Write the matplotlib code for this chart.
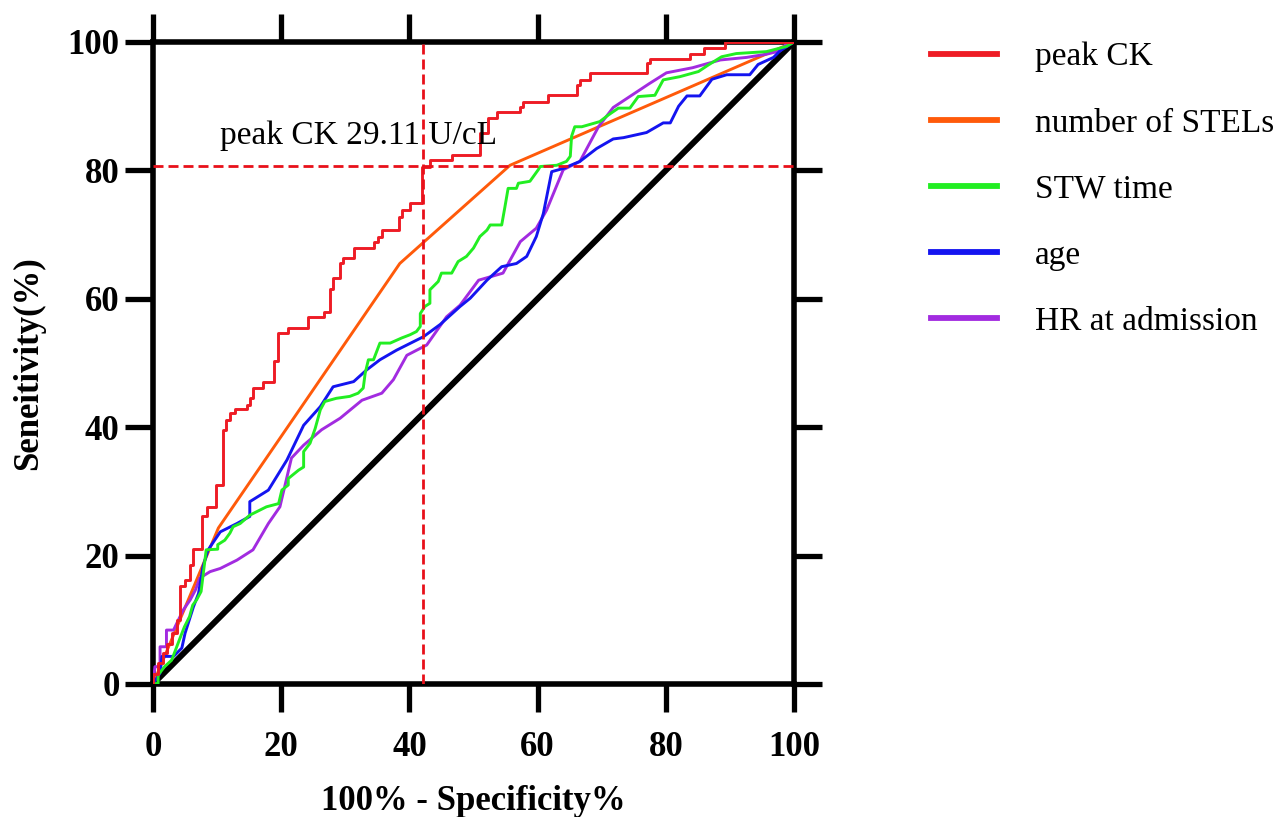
import matplotlib
matplotlib.use("Agg")
import matplotlib.pyplot as plt
from matplotlib.lines import Line2D

plt.rcParams['font.family'] = ['Liberation Serif', 'DejaVu Serif']

# ROC curves (x = 100% - specificity, y = sensitivity)
# peak CK: staircase, each point = (fpr where the level starts, level)
ck_fpr = [0, 0, 0.8, 1.5, 2.2, 2.9, 3.7, 4.2, 5.0, 5.8, 6.3, 7.6, 8.5, 9.9, 10.9, 11.4,
          12.0, 12.8, 14.6, 15.1, 15.6, 17.2, 18.9, 19.5, 21.1, 24.2, 26.6, 27.6, 28.1,
          29.2, 29.7, 31.3, 34.4, 35.1, 35.7, 38.3, 38.8, 40.1, 41.9, 43.2, 46.6, 51.0,
          52.3, 53.6, 57.3, 57.8, 61.7, 66.1, 66.6, 68.2, 77.0, 77.5, 83.8, 85.9, 89.2, 100]
ck_tpr = [0, 1.6, 3.2, 4.8, 6.3, 7.9, 10.0, 15.2, 16.2, 18.5, 21.1, 26.1, 27.6, 31.0, 39.6,
          41.1, 42.2, 42.9, 43.5, 44.5, 46.1, 47.1, 50.3, 54.6, 55.4, 57.2, 58.0, 61.6, 63.2,
          65.5, 66.3, 67.9, 68.9, 69.7, 70.7, 72.8, 73.8, 74.9, 80.6, 81.6, 82.4, 85.8, 88.1,
          89.1, 89.9, 90.7, 91.7, 93.3, 94.1, 95.1, 96.7, 97.4, 98.2, 99.0, 100, 100]

stel_fpr = [0, 10.2, 38.5, 55.7, 100]
stel_tpr = [0, 24.3, 65.5, 80.8, 100]

stw_fpr = [0, 0.8, 0.8, 1.8, 2.9, 3.4, 4.2, 4.9, 5.7, 6.2, 6.8, 7.5, 8.3, 10.1, 10.1, 11.2,
           12.0, 12.5, 13.6, 15.1, 17.7, 19.6, 20.1, 21.1, 21.1, 22.7, 23.5, 23.5, 24.5, 25.3,
           26.1, 26.8, 28.6, 30.7, 32.0, 32.8, 33.1, 33.6, 34.4, 35.4, 37.0, 38.8, 40.1, 41.1,
           41.7, 41.7, 42.4, 43.2, 43.2, 44.5, 45.0, 46.6, 47.6, 48.9, 50.0, 51.0, 52.1, 52.6,
           54.4, 54.9, 55.4, 56.7, 57.0, 58.8, 60.1, 60.4, 63.0, 64.5, 65.1, 65.3, 65.8, 66.9,
           69.7, 71.0, 72.6, 74.4, 75.7, 78.3, 79.6, 82.2, 85.1, 86.6, 88.7, 91.0, 95.7, 98.8, 100]
stw_tpr = [0, 0.1, 1.4, 2.7, 3.7, 5.0, 7.1, 8.9, 10.5, 12.3, 13.1, 14.4, 20.9, 21.0, 21.7, 22.4,
           23.5, 24.5, 25.0, 26.3, 27.6, 28.1, 30.2, 31.0, 32.0, 33.3, 33.8, 36.2, 37.5, 39.8,
           42.7, 44.0, 44.5, 44.8, 45.3, 46.1, 48.4, 50.5, 50.5, 53.1, 53.1, 53.9, 54.4, 54.9,
           55.7, 57.7, 58.8, 59.3, 61.4, 62.7, 64.0, 64.0, 65.8, 66.6, 67.9, 69.7, 70.7, 71.5,
           71.5, 74.3, 77.2, 77.2, 78.0, 78.3, 80.1, 80.6, 80.8, 81.4, 82.2, 85.3, 86.8, 86.8,
           87.6, 88.6, 89.7, 89.7, 91.5, 91.7, 94.1, 94.6, 95.4, 96.4, 97.7, 98.2, 98.5, 99.3, 100]

age_fpr = [0, 1.1, 1.4, 3.2, 4.5, 5.0, 6.3, 7.1, 7.8, 8.6, 10.5, 13.1, 15.1, 15.1, 18.0, 20.9,
           23.5, 26.1, 28.1, 31.3, 33.3, 35.4, 38.0, 42.2, 44.8, 47.9, 49.5, 52.1, 54.4, 56.7,
           58.3, 59.8, 60.9, 62.2, 64.0, 66.6, 69.2, 71.8, 73.4, 77.0, 79.6, 80.7, 82.0, 83.3,
           85.3, 87.2, 89.5, 93.1, 94.4, 96.8, 97.8, 100]
age_tpr = [0, 1.7, 4.3, 4.3, 5.6, 7.9, 12.0, 14.1, 18.3, 20.9, 23.7, 25.0, 26.1, 28.4, 30.2, 34.9,
           40.3, 43.2, 46.3, 47.1, 48.9, 50.5, 52.0, 54.1, 56.0, 58.8, 60.1, 62.9, 65.0, 65.5,
           66.6, 69.7, 73.3, 79.8, 80.3, 81.4, 83.4, 84.9, 85.1, 85.9, 87.4, 87.4, 90.0, 91.6,
           91.6, 94.2, 94.9, 94.9, 96.5, 97.6, 98.6, 100]

hr_fpr = [0, 0.3, 1.1, 1.1, 2.1, 2.1, 3.2, 4.7, 5.8, 6.6, 7.3, 8.9, 10.5, 13.1, 15.6, 18.0,
          19.8, 21.6, 23.5, 26.3, 29.2, 32.6, 35.7, 37.5, 39.6, 42.7, 45.8, 47.9, 50.8, 54.6,
          57.3, 59.8, 61.4, 64.0, 66.6, 69.5, 71.8, 77.4, 80.1, 84.2, 88.5, 92.6, 95.7, 97.8, 99.1, 100]
hr_tpr = [0, 2.7, 2.7, 5.8, 5.8, 8.4, 8.4, 11.5, 13.1, 14.6, 16.5, 17.5, 18.0, 19.3, 20.9, 25.0,
          27.6, 35.2, 37.2, 39.6, 41.4, 44.2, 45.3, 47.4, 51.2, 52.8, 57.2, 59.0, 62.9, 64.0,
          68.9, 71.0, 73.8, 80.1, 81.4, 86.8, 89.8, 93.5, 95.2, 96.0, 97.2, 97.6, 98.1, 98.6, 100, 100]

labels = ['peak CK', 'number of STELs', 'STW time', 'age', 'HR at admission']
colors = ['#EE1C25', '#FF5A0A', '#22EE22', '#1414F0', '#A22BE0']

cut_fpr = 42.1   # cutoff point for peak CK
cut_tpr = 80.7
cut_text = 'peak CK 29.11 U/cL'

fig = plt.figure(figsize=(12.82, 8.17), dpi=100)
ax = fig.add_axes([153 / 1282, 133 / 817, 641 / 1282, 642 / 817])

ax.plot([0, 100], [0, 100], color='black', lw=4.3, solid_capstyle='butt', zorder=2)

lw = 2.1
ax.plot(stel_fpr, stel_tpr, color=colors[1], lw=lw, zorder=3)
ax.plot(hr_fpr, hr_tpr, color=colors[4], lw=lw, zorder=3)
ax.plot(age_fpr, age_tpr, color=colors[3], lw=lw, zorder=3)
ax.plot(stw_fpr, stw_tpr, color=colors[2], lw=lw, zorder=4)
ax.step(ck_fpr, ck_tpr, where='post', color=colors[0], lw=lw, zorder=5)

# cutoff guide lines
ax.plot([cut_fpr, cut_fpr], [0, 100], color='#E8101A', lw=2.0, dashes=(3.6, 1.8), zorder=6)
ax.plot([0, 100], [cut_tpr, cut_tpr], color='#E8101A', lw=2.0, dashes=(3.6, 1.8), zorder=6)
ax.text(10.4, 84.1, cut_text, fontsize=24, va='baseline', ha='left', zorder=7)

ax.set_xlim(0, 100)
ax.set_ylim(0, 100)
ticks = [0, 20, 40, 60, 80, 100]
ax.set_xticks(ticks)
ax.set_yticks(ticks)
for s in ax.spines.values():
    s.set_linewidth(4)
ax.tick_params(which='both', direction='out', length=20, width=3.8,
               top=True, right=True, labeltop=False, labelright=False)
ax.tick_params(axis='x', pad=14)
ax.tick_params(axis='y', pad=4)
for t in ax.get_xticklabels() + ax.get_yticklabels():
    t.set_fontsize(25)
    t.set_fontweight('bold')

ax.set_xlabel('100% - Specificity%', fontsize=25, fontweight='bold', labelpad=15)
ax.set_ylabel('Seneitivity(%)', fontsize=25, fontweight='bold', labelpad=16)

handles = [Line2D([0], [0], color=c, lw=4.2) for c in colors]
fig.legend(handles, labels, loc='upper left', bbox_to_anchor=(931 / 1282, 1 - 42 / 817),
           frameon=False, fontsize=24, handlelength=1.98, handletextpad=1.15,
           labelspacing=1.07, borderpad=0, borderaxespad=0)

fig.savefig('out.png', dpi=100)
